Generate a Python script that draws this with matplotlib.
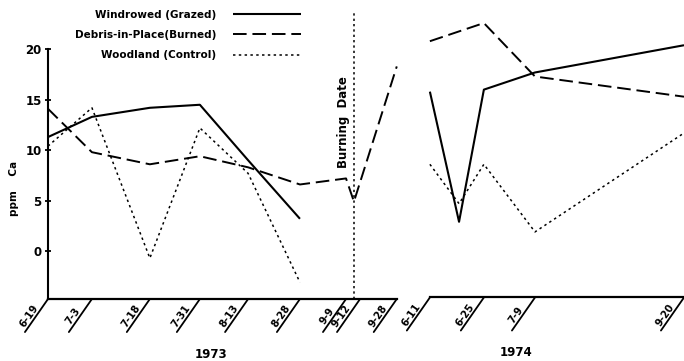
import numpy as np
import matplotlib
matplotlib.use("Agg")
import matplotlib.pyplot as plt

#### Data ####
# plot positions (roughly days, as spaced on the original drawing)
dates73 = ['6-19', '7-3', '7-18', '7-31', '8-13', '8-28', '9-9', '9-12', '9-28']
pos73 = [0, 12.2, 28.3, 42.2, 55.6, 70, 82.8, 86.7, 96.9]
dates74 = ['6-11', '6-25', '7-9', '9-20']
pos74 = [106.1, 121.1, 135.3, 176.7]
burn_pos = 85.0

# Windrowed (Grazed)
wind73_x = [0, 12.2, 28.3, 42.2, 55.6, 70]
wind73_y = [11.3, 13.3, 14.2, 14.5, 9.0, 3.2]
wind74_x = [106.1, 114.2, 121.1, 135.3, 176.7]
wind74_y = [15.8, 2.9, 16.0, 17.7, 20.4]

# Debris-in-Place (Burned)
deb73_x = [0, 12.2, 28.3, 42.2, 55.6, 70, 82.8, 85.0, 96.9]
deb73_y = [14.1, 9.8, 8.6, 9.4, 8.3, 6.6, 7.2, 4.9, 18.3]
deb74_x = [106.1, 121.1, 135.3, 176.7]
deb74_y = [20.8, 22.6, 17.3, 15.3]

# Woodland (Control)
wood73_x = [0, 12.2, 28.3, 42.2, 55.6, 70]
wood73_y = [10.4, 14.2, -0.7, 12.2, 7.7, -3.1]
wood74_x = [106.1, 114.2, 121.1, 135.3, 176.7]
wood74_y = [8.6, 4.7, 8.6, 1.9, 11.7]

ymin = -4.75

#### Figure ####
fig = plt.figure(figsize=(6.84, 3.61), dpi=100)
ax = fig.add_axes([48/684, 62/361, 636/684, 280/361])
ax.set_xlim(0, 176.7)
ax.set_ylim(ymin, 23)

solid = dict(color='black', lw=1.5, solid_capstyle='butt')
dashed = dict(color='black', lw=1.4, dashes=(7, 3))
dotted = dict(color='black', lw=1.1, dashes=(1.6, 2.2))

ax.plot(wind73_x, wind73_y, label='Windrowed (Grazed)', **solid)
ax.plot(wind74_x, wind74_y, **solid)
ax.plot(deb73_x, deb73_y, label='Debris-in-Place(Burned)', clip_on=False, **dashed)
ax.plot(deb74_x, deb74_y, clip_on=False, **dashed)
ax.plot(wood73_x, wood73_y, label='Woodland (Control)', **dotted)
ax.plot(wood74_x, wood74_y, **dotted)

# burning date
ax.plot([burn_pos, burn_pos], [ymin, 23.6], color='black', lw=1.1,
        dashes=(1.5, 2), clip_on=False)
ax.text(82.0, 12.8, 'Burning  Date', rotation=90, ha='center', va='center',
        fontsize=8.5, fontweight='bold')

# axes
for s in ['top', 'right', 'bottom']:
    ax.spines[s].set_visible(False)
ax.spines['left'].set_bounds(ymin, 20)
ax.spines['left'].set_linewidth(1.5)
ax.set_yticks([0, 5, 10, 15, 20])
ax.set_yticklabels(['0', '5', '10', '15', '20'], fontweight='bold', fontsize=8.5)
ax.tick_params(axis='y', direction='inout', length=5, width=1.3, pad=2)
ax.set_xticks([])

ax.plot([pos73[0], pos73[-1]], [ymin, ymin], color='black', lw=1.6, clip_on=False)
ax.plot([pos74[0], pos74[-1]], [ymin + 0.15, ymin + 0.15], color='black', lw=1.6, clip_on=False)

def slant_ticks(positions, labels, y0):
    for x, lab in zip(positions, labels):
        ax.annotate('', xy=(x, y0), xytext=(-16.6, -23.8), textcoords='offset points',
                    arrowprops=dict(arrowstyle='-', lw=1.3, shrinkA=0, shrinkB=0),
                    annotation_clip=False)
        ax.annotate(lab, xy=(x, y0), xytext=(-13.5, -12.5), textcoords='offset points',
                    rotation=55, ha='center', va='center', rotation_mode='anchor',
                    fontsize=7.2, fontweight='bold', annotation_clip=False)

slant_ticks(pos73, dates73, ymin)
slant_ticks(pos74, dates74, ymin + 0.15)

fig.text(211/684, 1 - 355/361, '1973', ha='center', va='center', fontsize=8.5, fontweight='bold')
fig.text(516/684, 1 - 353/361, '1974', ha='center', va='center', fontsize=8.5, fontweight='bold')
fig.text(14/684, 1 - 188/361, 'ppm    Ca', rotation=90, ha='center', va='center',
         fontsize=7.5, fontweight='bold')

leg = ax.legend(loc='center', bbox_to_anchor=(188/684, 1 - 35/361), bbox_transform=fig.transFigure,
                frameon=False, markerfirst=False, handlelength=6.5, handletextpad=1.6,
                labelspacing=1.0, prop=dict(size=7.5, weight='bold'))

fig.savefig('out.png', dpi=100)
